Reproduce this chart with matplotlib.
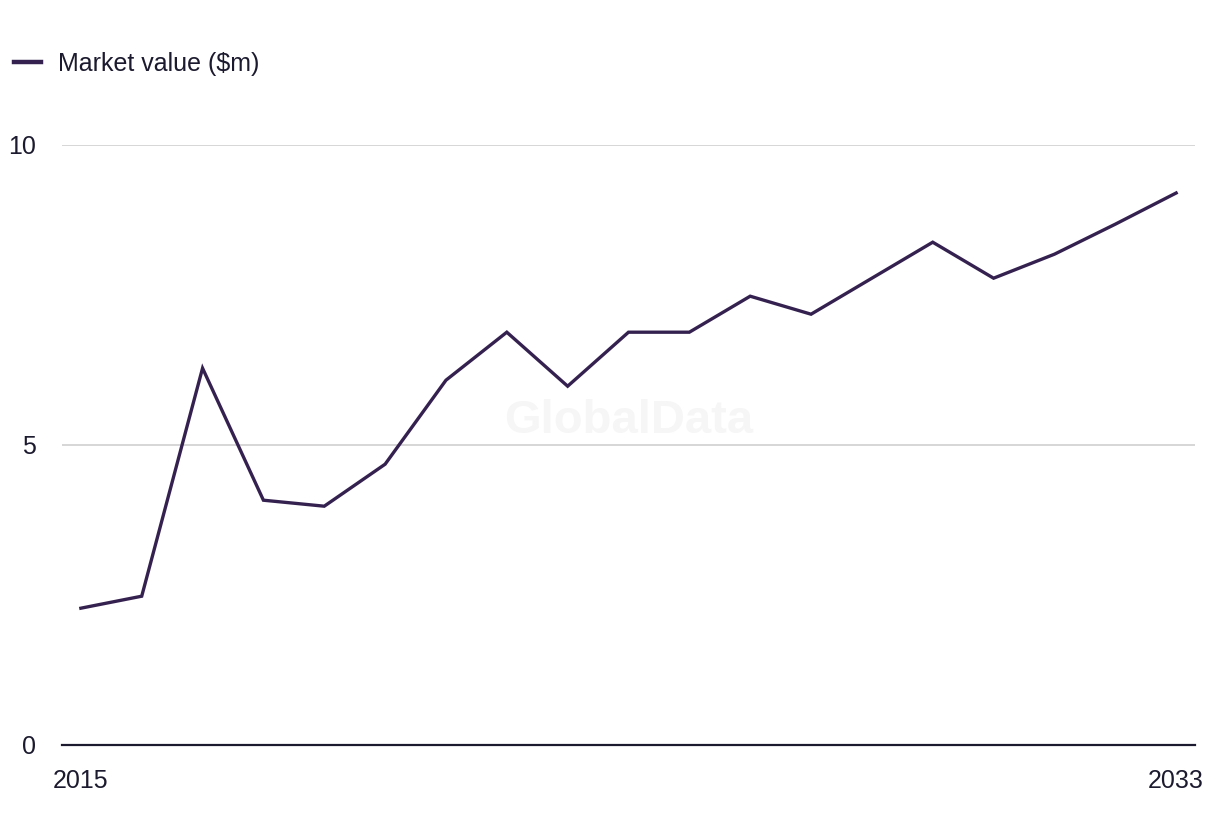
import matplotlib.pyplot as plt

years = list(range(2015, 2034))
market_value = [2.28, 2.48, 6.28, 4.08, 3.98, 4.68, 6.08, 6.88, 5.98, 6.88,
                6.88, 7.48, 7.18, 7.78, 8.38, 7.78, 8.18, 8.68, 9.2]
y_ticks = [0, 5, 10]
x_ticks = [2015, 2033]

plt.rcParams['font.family'] = ['Liberation Sans', 'DejaVu Sans']
text_color = '#1c1a2e'
line_color = '#35214f'

fig = plt.figure(figsize=(12.2, 8.36), dpi=100)
ax = fig.add_axes([62 / 1220, 1 - 745 / 836, 1133 / 1220, 600 / 836])

ax.text(0.5, 0.54, 'GlobalData', transform=ax.transAxes, ha='center', va='center',
        fontsize=34, fontweight='bold', color='#f6f6f6', zorder=0)

ax.plot(years, market_value, color=line_color, linewidth=2.4, label='Market value ($m)',
        solid_joinstyle='miter', zorder=3)

ax.set_xlim(2014.69, 2033.31)
ax.set_ylim(0, 10)
ax.set_yticks(y_ticks)
ax.set_xticks(x_ticks)
ax.set_yticklabels([str(v) for v in y_ticks])
ax.set_xticklabels([str(v) for v in x_ticks])

for y in y_ticks[1:]:
    ax.axhline(y, color='#d3d3d3', linewidth=1.3, zorder=1)

for side in ['top', 'right', 'left']:
    ax.spines[side].set_visible(False)
ax.spines['bottom'].set_color(text_color)
ax.spines['bottom'].set_linewidth(1.6)
ax.spines['bottom'].set_zorder(4)

ax.tick_params(axis='both', length=0, labelsize=18, colors=text_color)
ax.tick_params(axis='y', pad=19)
ax.tick_params(axis='x', pad=17)

leg = fig.legend(loc='upper left', bbox_to_anchor=(-0.007, 0.965), frameon=False,
                 fontsize=18, handlelength=1.1, handletextpad=0.65)
for t in leg.get_texts():
    t.set_color(text_color)
for h in leg.get_lines():
    h.set_linewidth(3.2)

fig.savefig('out.png', dpi=100)
